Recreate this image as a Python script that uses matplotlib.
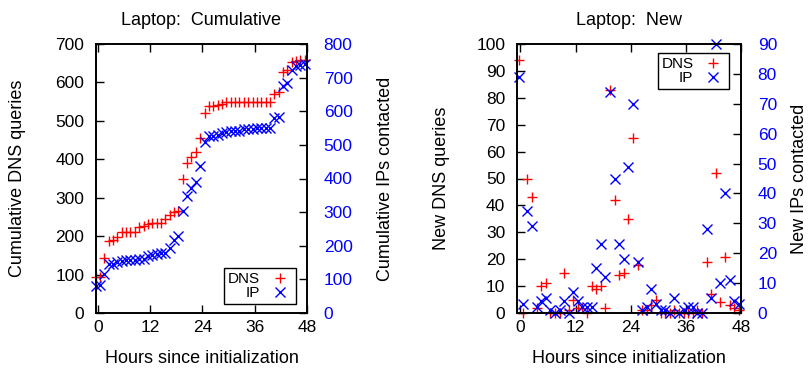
import matplotlib.pyplot as plt

plt.rcParams['font.family'] = ['Liberation Sans', 'DejaVu Sans']

hours = [-0.4, 0.5, 1.5, 2.5, 3.5, 4.5, 5.5, 6.5, 7.5, 8.5, 9.5, 10.5, 11.5,
         12.5, 13.5, 14.5, 15.5, 16.5, 17.5, 18.5, 19.5, 20.5, 21.5, 22.5,
         23.5, 24.5, 25.5, 26.5, 27.5, 28.5, 29.5, 30.5, 31.5, 32.5, 33.5,
         34.5, 35.5, 36.5, 37.5, 38.5, 39.5, 40.5, 41.5, 42.5, 43.5, 44.5,
         45.5, 46.5, 47.5]

# new per hour
new_dns = [94, 0, 50, 43, 2, 10, 11, 0, 0, 0, 15, 1, 5, 2, 2, 0, 10, 9, 10, 2,
           83, 42, 14, 15, 35, 65, 18, 1, 1, 3, 5, 0, 0, 0, 1, 0, 0, 0, 0, 1,
           0, 19, 7, 52, 4, 21, 3, 2, 1]
new_ip = [79, 3, 34, 29, 2, 4, 5, 1, 0, 1, 4, 0, 7, 4, 2, 2, 2, 15, 23, 12,
          74, 45, 23, 18, 49, 70, 17, 1, 2, 8, 3, 1, 1, 0, 5, 0, 1, 2, 2, 0,
          0, 28, 5, 90, 10, 40, 11, 4, 3]

# cumulative
cum_dns = [94, 94, 144, 187, 189, 199, 210, 210, 210, 210, 225, 226, 231, 233,
           235, 235, 245, 254, 264, 266, 349, 391, 405, 420, 455, 520, 538, 539,
           540, 543, 548, 548, 548, 548, 549, 549, 549, 549, 549, 550, 550, 569,
           576, 628, 632, 653, 656, 658, 659]
cum_ip = [79, 82, 116, 145, 147, 151, 156, 157, 157, 158, 162, 162, 169, 173,
          175, 177, 179, 194, 217, 229, 303, 348, 371, 389, 438, 508, 525, 526,
          528, 536, 539, 540, 541, 541, 546, 546, 547, 549, 551, 551, 551, 579,
          584, 674, 684, 724, 735, 739, 742]

xticks = [0, 12, 24, 36, 48]
RED = '#ff0000'
BLUE = '#0000ff'
W, H = 812, 370


def panel(rect, xlim, dns, ip, ylim1, yticks1, ylim2, yticks2,
          title, ylab1, ylab2, y2lab_x, leg_loc, leg_anchor):
    ax = fig.add_axes(rect)
    ax2 = ax.twinx()
    ax.plot(hours, dns, ls='none', marker='+', ms=7, mew=1.0, color=RED,
            clip_on=False, label='DNS')
    ax2.plot(hours, ip, ls='none', marker='x', ms=6.5, mew=1.0, color=BLUE,
             clip_on=False, label='IP')
    ax.set_xlim(*xlim)
    ax.set_ylim(*ylim1)
    ax2.set_ylim(*ylim2)
    ax.set_xticks(xticks)
    ax.set_yticks(yticks1)
    ax2.set_yticks(yticks2)

    ax.tick_params(axis='x', direction='in', top=True, length=5.5, width=1,
                   pad=5, labelsize=12.5)
    ax.tick_params(axis='y', direction='in', right=False, length=5.5, width=1,
                   pad=8.5, labelsize=12.5)
    ax2.tick_params(axis='y', direction='in', length=5.5, width=1, pad=12,
                    labelsize=12.5, labelcolor=BLUE)
    for a in (ax, ax2):
        for s in a.spines.values():
            s.set_linewidth(1.2)

    ax.set_title(title, fontsize=13, pad=13.5)
    ax.set_xlabel('Hours since initialization', fontsize=13)
    ax.xaxis.set_label_coords(0.5, -0.136)
    ax.set_ylabel(ylab1, fontsize=13)
    ax2.set_ylabel(ylab2, fontsize=13)
    ax.yaxis.set_label_coords(-0.33 if rect[0] < 0.5 else -0.30, 0.5)
    ax2.yaxis.set_label_coords(y2lab_x, 0.5)

    h1, l1 = ax.get_legend_handles_labels()
    h2, l2 = ax2.get_legend_handles_labels()
    leg = ax2.legend(h1 + h2, l1 + l2, loc=leg_loc, bbox_to_anchor=leg_anchor,
                     borderaxespad=0, markerfirst=False, numpoints=1,
                     fontsize=11, handlelength=1.6, handletextpad=0.5,
                     borderpad=0.25, labelspacing=0.0, fancybox=False,
                     framealpha=1, edgecolor='black')
    leg.get_frame().set_linewidth(1.0)
    return ax, ax2


fig = plt.figure(figsize=(W / 100, H / 100), dpi=100)

panel([96 / W, 1 - 313 / H, 211 / W, 269 / H], (-0.4, 48),
      cum_dns, cum_ip, (0, 700), range(0, 701, 100), (0, 800),
      range(0, 801, 100), 'Laptop:  Cumulative', 'Cumulative DNS queries',
      'Cumulative IPs contacted', 1.332, 'lower right', (0.948, 0.0335))

panel([517 / W, 1 - 313 / H, 224 / W, 269 / H], (-0.75, 48),
      new_dns, new_ip, (0, 100), range(0, 101, 10), (0, 90),
      range(0, 91, 10), 'Laptop:  New', 'New DNS queries',
      'New IPs contacted', 1.222, 'upper right', (0.948, 0.965))

fig.savefig('out.png', dpi=100)
